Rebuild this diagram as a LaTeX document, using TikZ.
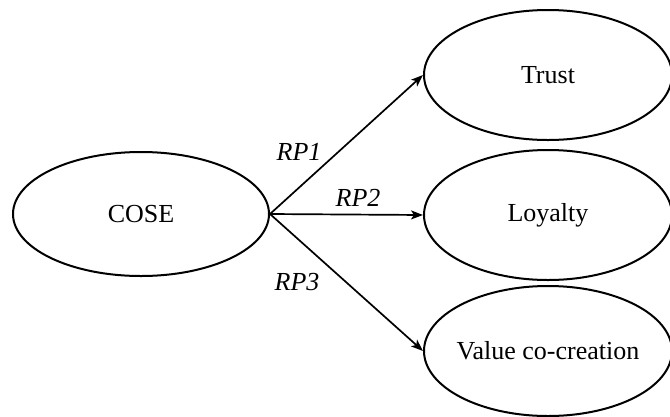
\documentclass[tikz,border=0pt]{standalone}
\usepackage{fontspec}
\setmainfont{Liberation Serif}
\usetikzlibrary{shapes.geometric,arrows.meta}
\begin{document}
\begin{tikzpicture}[x=1pt,y=-1pt,
  oval/.style={ellipse,draw,line width=2pt,inner sep=0pt,minimum width=248pt,minimum height=130pt,font=\fontsize{26}{30}\selectfont},
  link/.style={line width=1.7pt,-{Stealth[length=12pt,width=9pt,inset=3pt]}},
  rp/.style={font=\fontsize{26}{30}\selectfont\itshape,inner sep=0pt}]
\useasboundingbox (0,0) rectangle (670,416);
\node[oval,minimum width=256pt,minimum height=124pt] (cose) at (141,214) {\makebox[0pt]{COSE}};
\node[oval] (trust) at (548,75) {\makebox[0pt]{Trust}};
\node[oval] (loyal) at (548,215) {\makebox[0pt]{Loyalty}};
\node[oval] (value) at (548,351) {\makebox[0pt]{Value co-creation}};
\draw[link] (cose.east) -- (trust.west);
\draw[link] (cose.east) -- (loyal.west);
\draw[link] (cose.east) -- (value.west);
\node[rp] (rp1) at (299,152) {RP1};
\node[rp] (rp2) at (358,198) {RP2};
\node[rp] (rp3) at (297,282) {RP3};
\end{tikzpicture}
\end{document}
